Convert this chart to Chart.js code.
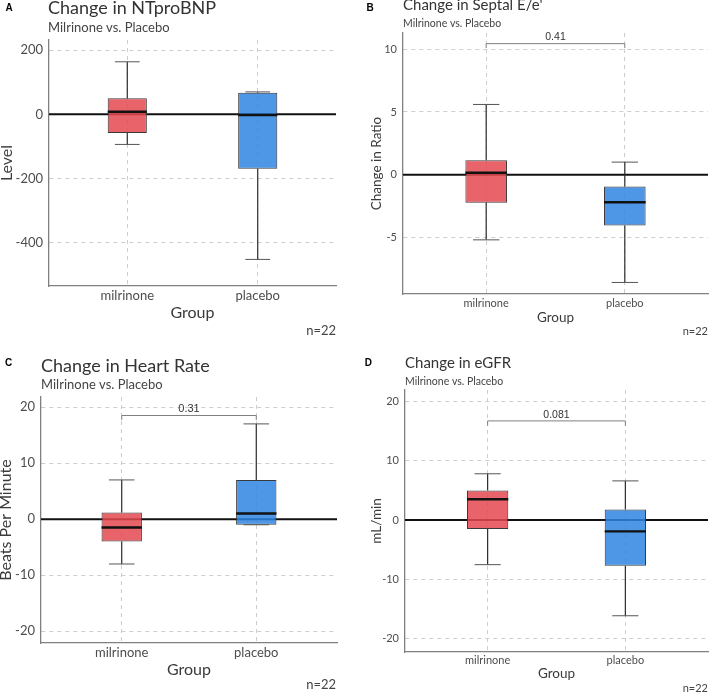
<!DOCTYPE html>
<html>
<head>
<meta charset="utf-8">
<script src="https://cdn.jsdelivr.net/npm/chart.js@4.4.0/dist/chart.umd.min.js"></script>
<style>
    body { margin: 0; background: #fff; width: 709px; height: 692px; position: relative; overflow: hidden; }
    canvas { position: absolute; }
</style>
</head>
<body>
<canvas id="bnp" width="354" height="340" style="left:0;top:0"></canvas>
<canvas id="ee" width="354" height="340" style="left:355px;top:0"></canvas>
<canvas id="hr" width="354" height="352" style="left:0;top:340px"></canvas>
<canvas id="egfr" width="354" height="352" style="left:355px;top:340px"></canvas>
<script>
// groups on the x axis
const groups = ['milrinone', 'placebo'];
const groupPos = [1, 2];
const xRange = [0.4, 2.6];
const refLine = [0];
const sampleNote = 'n=22';
const subtitleText = 'Milrinone vs. Placebo';

// A - NTproBNP
const bnpLow = [-94, -453];
const bnpQ1 = [-58, -170];
const bnpMed = [8, -2];
const bnpQ3 = [50, 67];
const bnpHigh = [164, 70];
const bnpTicks = [-400, -200, 0, 200];
const bnpRange = [-536, 232];

// B - septal E/e'
const eeLow = [-5.2, -8.6];
const eeQ1 = [-2.25, -4.05];
const eeMed = [0.15, -2.2];
const eeQ3 = [1.15, -0.95];
const eeHigh = [5.6, 1.0];
const eeTicks = [-5, 0, 5, 10];
const eeRange = [-9.52, 11.3];
const eeBracket = [10.45, 10.1];
const eeP = '0.41';

// C - heart rate
const hrLow = [-8, -1];
const hrQ1 = [-4, -1];
const hrMed = [-1.5, 1];
const hrQ3 = [1.2, 7];
const hrHigh = [7, 17];
const hrTicks = [-20, -10, 0, 10, 20];
const hrRange = [-22.1, 21.8];
const hrBracket = [18.5, 17.7];
const hrP = '0.31';

// D - eGFR
const gfrLow = [-7.5, -16.1];
const gfrQ1 = [-1.5, -7.7];
const gfrMed = [3.5, -1.9];
const gfrQ3 = [5, 1.8];
const gfrHigh = [7.8, 6.6];
const gfrTicks = [-20, -10, 0, 10, 20];
const gfrRange = [-22.2, 21.9];
const gfrBracket = [16.7, 15.9];
const gfrP = '0.081';

const BOX_W = 0.3;
const CAP_W = 0.19;
const boxColors = ['rgba(228, 73, 80, 0.85)', 'rgba(47, 133, 226, 0.85)'];
const FONT = 'Lato';

const bigFonts = { tick: 13, axis: 16, title: 18, sub: 13, note: 13, p: 11 };
const smallFonts = { tick: 11, axis: 13.5, title: 15, sub: 10.5, note: 11, p: 10.5 };

const panels = [
    {
        id: 'bnp', letter: 'A', title: 'Change in NTproBNP', yTitle: 'Level',
        low: bnpLow, q1: bnpQ1, med: bnpMed, q3: bnpQ3, high: bnpHigh,
        ticks: bnpTicks, range: bnpRange, bracket: null, p: null,
        fonts: bigFonts, w: 354, h: 340,
        area: { left: 49, right: 336, top: 40, bottom: 286 },
        groupBottom: 321, xTickPad: 2, yTitlePad: -1,
        letterAt: [9, 8.5], titleAt: [48, 14], subAt: [48, 32.3], noteAt: [336, 331]
    },
    {
        id: 'ee', letter: 'B', title: "Change in Septal E/e'", yTitle: 'Change in Ratio',
        low: eeLow, q1: eeQ1, med: eeMed, q3: eeQ3, high: eeHigh,
        ticks: eeTicks, range: eeRange, bracket: eeBracket, p: eeP,
        fonts: smallFonts, w: 354, h: 340,
        area: { left: 48, right: 353, top: 33, bottom: 294 },
        groupBottom: 324.5, xTickPad: 3, yTitlePad: 15,
        letterAt: [15, 8.5], titleAt: [48, 9.5], subAt: [48, 27.3], noteAt: [353, 331]
    },
    {
        id: 'hr', letter: 'C', title: 'Change in Heart Rate', yTitle: 'Beats Per Minute',
        low: hrLow, q1: hrQ1, med: hrMed, q3: hrQ3, high: hrHigh,
        ticks: hrTicks, range: hrRange, bracket: hrBracket, p: hrP,
        fonts: bigFonts, w: 354, h: 352,
        area: { left: 41, right: 337, top: 57, bottom: 303 },
        groupBottom: 338, xTickPad: 2, yTitlePad: -2,
        letterAt: [8.5, 23.7], titleAt: [41, 31.7], subAt: [41, 48.5], noteAt: [336, 345]
    },
    {
        id: 'egfr', letter: 'D', title: 'Change in eGFR', yTitle: 'mL/min',
        low: gfrLow, q1: gfrQ1, med: gfrMed, q3: gfrQ3, high: gfrHigh,
        ticks: gfrTicks, range: gfrRange, bracket: gfrBracket, p: gfrP,
        fonts: smallFonts, w: 354, h: 352,
        area: { left: 50, right: 353, top: 50, bottom: 312 },
        groupBottom: 340.75, xTickPad: 2, yTitlePad: 15.25,
        letterAt: [13.3, 23.3], titleAt: [50, 28.3], subAt: [50, 45], noteAt: [353, 348]
    }
];

function line(ctx, x1, y1, x2, y2) {
    ctx.beginPath();
    ctx.moveTo(x1, y1);
    ctx.lineTo(x2, y2);
    ctx.stroke();
}

// whiskers, medians, p-value bracket and the panel texts
const boxExtras = {
    id: 'boxExtras',
    afterDatasetsDraw(chart) {
        const p = panels.find(q => q.id === chart.canvas.id);
        const { ctx } = chart;
        const x = chart.scales.x;
        const y = chart.scales.y;
        ctx.save();
        groupPos.forEach((g, i) => {
            const cx = x.getPixelForValue(g);
            const capL = x.getPixelForValue(g - CAP_W / 2);
            const capR = x.getPixelForValue(g + CAP_W / 2);
            ctx.strokeStyle = '#2b2b2b';
            ctx.lineWidth = 1.2;
            if (p.high[i] > p.q3[i]) line(ctx, cx, y.getPixelForValue(p.high[i]), cx, y.getPixelForValue(p.q3[i]));
            if (p.low[i] < p.q1[i]) line(ctx, cx, y.getPixelForValue(p.q1[i]), cx, y.getPixelForValue(p.low[i]));
            ctx.strokeStyle = '#555';
            ctx.lineWidth = 1;
            line(ctx, capL, y.getPixelForValue(p.high[i]), capR, y.getPixelForValue(p.high[i]));
            line(ctx, capL, y.getPixelForValue(p.low[i]), capR, y.getPixelForValue(p.low[i]));
            // median
            ctx.strokeStyle = '#111';
            ctx.lineWidth = 2.4;
            const my = y.getPixelForValue(p.med[i]);
            line(ctx, x.getPixelForValue(g - BOX_W / 2), my, x.getPixelForValue(g + BOX_W / 2), my);
        });
        if (p.bracket) {
            const x1 = x.getPixelForValue(groupPos[0]);
            const x2 = x.getPixelForValue(groupPos[1]);
            const by = y.getPixelForValue(p.bracket[0]);
            const ty = y.getPixelForValue(p.bracket[1]);
            ctx.strokeStyle = '#808080';
            ctx.lineWidth = 1;
            ctx.beginPath();
            ctx.moveTo(x1, ty);
            ctx.lineTo(x1, by);
            ctx.lineTo(x2, by);
            ctx.lineTo(x2, ty);
            ctx.stroke();
            ctx.fillStyle = '#333';
            ctx.font = `${p.fonts.p}px "Liberation Sans", Arial`;
            ctx.textAlign = 'center';
            ctx.textBaseline = 'bottom';
            ctx.fillText(p.p, (x1 + x2) / 2, by - 1);
        }
        ctx.restore();
    },
    afterDraw(chart) {
        const p = panels.find(q => q.id === chart.canvas.id);
        const ctx = chart.ctx;
        ctx.save();
        ctx.fillStyle = '#000';
        ctx.font = 'bold 10px "Liberation Sans", Arial';
        ctx.textAlign = 'center';
        ctx.textBaseline = 'middle';
        ctx.fillText(p.letter, p.letterAt[0], p.letterAt[1]);

        ctx.textAlign = 'left';
        ctx.textBaseline = 'alphabetic';
        ctx.fillStyle = '#333';
        ctx.font = `${p.fonts.title}px ${FONT}`;
        ctx.fillText(p.title, p.titleAt[0], p.titleAt[1]);
        ctx.fillStyle = '#444';
        ctx.font = `${p.fonts.sub}px ${FONT}`;
        ctx.fillText(subtitleText, p.subAt[0], p.subAt[1]);

        ctx.textAlign = 'right';
        ctx.textBaseline = 'middle';
        ctx.font = `${p.fonts.note}px ${FONT}`;
        ctx.fillText(sampleNote, p.noteAt[0], p.noteAt[1]);
        ctx.restore();
    }
};

function makePanel(p) {
    const a = p.area;
    const f = p.fonts;
    const boxData = groupPos.map((g, i) => ({ x: g, y: [p.q1[i], p.q3[i]] }));
    const zeroData = xRange.map(v => ({ x: v, y: refLine[0] }));
    const gridOpts = { color: '#cdcdcd', lineWidth: 1, drawTicks: false, offset: false };
    const borderOpts = { color: '#808080', width: 1.3, dash: [4, 4] };

    return new Chart(document.getElementById(p.id), {
        type: 'bar',
        data: {
            datasets: [
                {
                    type: 'bar',
                    data: boxData,
                    backgroundColor: boxColors,
                    borderColor: '#3a3a3a',
                    borderWidth: 1,
                    borderSkipped: false,
                    barPercentage: BOX_W,
                    categoryPercentage: 1,
                    order: 1
                },
                {
                    type: 'line',
                    data: zeroData,
                    borderColor: '#111',
                    borderWidth: 2,
                    pointRadius: 0,
                    order: 2
                }
            ]
        },
        options: {
            responsive: false,
            animation: false,
            layout: {
                padding: { left: 0, top: a.top, right: p.w - a.right, bottom: p.h - p.groupBottom }
            },
            plugins: {
                legend: { display: false },
                tooltip: { enabled: false }
            },
            scales: {
                x: {
                    type: 'linear',
                    min: xRange[0],
                    max: xRange[1],
                    offset: false,
                    afterBuildTicks: s => { s.ticks = groupPos.map(v => ({ value: v })); },
                    afterFit: s => { s.height = p.groupBottom - a.bottom; },
                    ticks: {
                        callback: (v, i) => groups[i],
                        autoSkip: false,
                        maxRotation: 0,
                        padding: p.xTickPad,
                        color: '#4d4d4d',
                        font: { family: FONT, size: f.tick }
                    },
                    grid: gridOpts,
                    border: borderOpts,
                    title: {
                        display: true,
                        text: 'Group',
                        color: '#3a3a3a',
                        padding: 0,
                        font: { family: FONT, size: f.axis, lineHeight: 1 }
                    }
                },
                y: {
                    min: p.range[0],
                    max: p.range[1],
                    afterBuildTicks: s => { s.ticks = p.ticks.map(v => ({ value: v })); },
                    afterFit: s => { s.width = a.left; },
                    ticks: {
                        callback: v => String(v),
                        padding: 6,
                        color: '#4d4d4d',
                        font: { family: FONT, size: f.tick }
                    },
                    grid: gridOpts,
                    border: borderOpts,
                    title: {
                        display: true,
                        text: p.yTitle,
                        color: '#3a3a3a',
                        padding: { top: p.yTitlePad, bottom: 0 },
                        font: { family: FONT, size: f.axis, lineHeight: 1 }
                    }
                }
            }
        },
        plugins: [boxExtras]
    });
}

document.addEventListener('DOMContentLoaded', () => {
    panels.forEach(makePanel);
});
</script>
</body>
</html>
